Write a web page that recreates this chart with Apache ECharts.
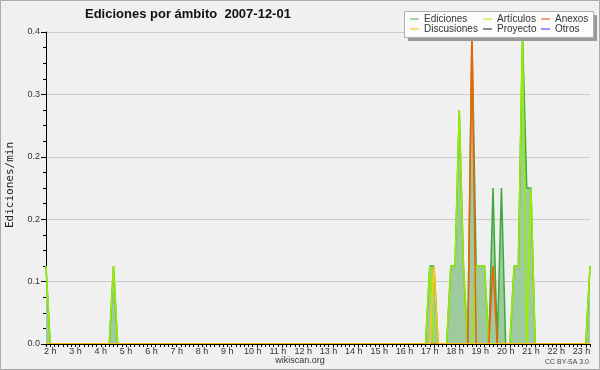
<!DOCTYPE html>
<html>
<head>
<meta charset="utf-8">
<script src="https://cdn.jsdelivr.net/npm/echarts@6/dist/echarts.min.js"></script>
<style>html,body{margin:0;padding:0;background:#f0f0f0;}#c{width:600px;height:370px;}</style>
</head>
<body>
<div id="c"></div>
<script>
// 10-minute bins starting at 01:50
const START_MIN = 110;
const STEP_MIN = 10;
const N_POINTS = 130;
const hourLabels = ["2 h","3 h","4 h","5 h","6 h","7 h","8 h","9 h","10 h","11 h","12 h","13 h","14 h","15 h","16 h","17 h","18 h","19 h","20 h","21 h","22 h","23 h"];
const yTickValues = [0, 0.08, 0.16, 0.24, 0.32, 0.4];

const ediciones = [
0.1,0,0,0,0,0,0,0,0,0,
0,0,0,0,0,0,0.1,0,0,0,
0,0,0,0,0,0,0,0,0,0,
0,0,0,0,0,0,0,0,0,0,
0,0,0,0,0,0,0,0,0,0,
0,0,0,0,0,0,0,0,0,0,
0,0,0,0,0,0,0,0,0,0,
0,0,0,0,0,0,0,0,0,0,
0,0,0,0,0,0,0,0,0,0,
0,0.1,0.1,0,0,0,0.1,0.1,0.3,0.1,
0,0.4,0.1,0.1,0.1,0,0.2,0,0.2,0,
0,0.1,0.1,0.4,0.2,0.2,0,0,0,0,
0,0,0,0,0,0,0,0,0,0.1];
const articulos = [
0.1,0,0,0,0,0,0,0,0,0,
0,0,0,0,0,0,0.1,0,0,0,
0,0,0,0,0,0,0,0,0,0,
0,0,0,0,0,0,0,0,0,0,
0,0,0,0,0,0,0,0,0,0,
0,0,0,0,0,0,0,0,0,0,
0,0,0,0,0,0,0,0,0,0,
0,0,0,0,0,0,0,0,0,0,
0,0,0,0,0,0,0,0,0,0,
0,0.1,0,0,0,0,0.1,0.1,0.3,0.1,
0,0,0.1,0.1,0.1,0,0,0,0,0,
0,0.1,0.1,0.4,0,0.2,0,0,0,0,
0,0,0,0,0,0,0,0,0,0.1];
const anexos = [
0,0,0,0,0,0,0,0,0,0,
0,0,0,0,0,0,0,0,0,0,
0,0,0,0,0,0,0,0,0,0,
0,0,0,0,0,0,0,0,0,0,
0,0,0,0,0,0,0,0,0,0,
0,0,0,0,0,0,0,0,0,0,
0,0,0,0,0,0,0,0,0,0,
0,0,0,0,0,0,0,0,0,0,
0,0,0,0,0,0,0,0,0,0,
0,0,0,0,0,0,0,0,0,0,
0,0.4,0,0,0,0,0.1,0,0,0,
0,0,0,0,0,0,0,0,0,0,
0,0,0,0,0,0,0,0,0,0];
const discusiones = [
0,0,0,0,0,0,0,0,0,0,
0,0,0,0,0,0,0,0,0,0,
0,0,0,0,0,0,0,0,0,0,
0,0,0,0,0,0,0,0,0,0,
0,0,0,0,0,0,0,0,0,0,
0,0,0,0,0,0,0,0,0,0,
0,0,0,0,0,0,0,0,0,0,
0,0,0,0,0,0,0,0,0,0,
0,0,0,0,0,0,0,0,0,0,
0,0,0.1,0,0,0,0,0,0,0,
0,0,0,0,0,0,0,0,0,0,
0,0,0,0,0,0,0,0,0,0,
0,0,0,0,0,0,0,0,0,0];
const proyecto = new Array(N_POINTS).fill(0);
const otros = new Array(N_POINTS).fill(0);

const categories = [];
for (let i = 0; i < N_POINTS; i++) {
  const t = START_MIN + STEP_MIN * i;
  const h = Math.floor(t / 60), m = t % 60;
  categories.push(h + ':' + (m < 10 ? '0' : '') + m);
}
function hourLabelFor(cat) {
  const [h, m] = cat.split(':').map(Number);
  if (m !== 0) return '';
  const lbl = hourLabels.find(s => s === h + ' h');
  return lbl || '';
}

const FONT = 'Liberation Sans';
const chart = echarts.init(document.getElementById('c'), null, {renderer: 'canvas'});

function legendCol(left, items) {
  return {
    orient: 'vertical', left: left, top: 14, padding: 0, itemGap: 0,
    icon: 'rect', itemWidth: 9, itemHeight: 1.5, selectedMode: false,
    textStyle: {fontFamily: FONT, fontSize: 10, color: '#333', lineHeight: 10, padding: [0,0,0,0]},
    data: items
  };
}

chart.setOption({
  animation: false,
  backgroundColor: '#f0f0f0',
  grid: {left: 46, right: 10, top: 32, bottom: 26, containLabel: false},
  graphic: [
    {type: 'rect', shape: {x: 0.5, y: 0.5, width: 599, height: 369}, style: {fill: 'none', stroke: '#aaaaaa', lineWidth: 1}, silent: true, z: 100},
    {type: 'text', x: 85, y: 14, style: {text: 'Ediciones por ámbito  2007-12-01', font: 'bold 13px "Liberation Sans"', fill: '#111', verticalAlign: 'middle'}},
    {type: 'text', x: 10, y: 185, rotation: Math.PI / 2, style: {text: 'Ediciones/min', font: '11px "DejaVu Sans Mono"', fill: '#222', align: 'center', verticalAlign: 'middle'}},
    {type: 'text', x: 300, y: 361, style: {text: 'wikiscan.org', font: '9px "Liberation Sans"', fill: '#333', align: 'center', verticalAlign: 'middle'}},
    {type: 'text', x: 589, y: 362, style: {text: 'CC BY-SA 3.0', font: '7px "Liberation Sans"', fill: '#444', align: 'right', verticalAlign: 'middle'}},
    {type: 'rect', shape: {x: 408, y: 15, width: 189, height: 26}, style: {fill: '#999999'}, z: 50},
    {type: 'rect', shape: {x: 404.5, y: 11.5, width: 189, height: 26}, style: {fill: '#fbfbfb', stroke: '#b0b0b0', lineWidth: 1}, z: 51}
  ],
  legend: [
    legendCol(410, [{name: 'Ediciones', itemStyle: {color: '#88cc88'}}, {name: 'Discusiones', itemStyle: {color: '#ffcc55'}}]),
    legendCol(483, [{name: 'Artículos', itemStyle: {color: '#ccee55'}}, {name: 'Proyecto', itemStyle: {color: '#666666'}}]),
    legendCol(541, [{name: 'Anexos', itemStyle: {color: '#ee8855'}}, {name: 'Otros', itemStyle: {color: '#9966ee'}}])
  ].map(l => Object.assign(l, {z: 60})),
  xAxis: {
    type: 'category', data: categories, boundaryGap: false, z: 10,
    axisLine: {lineStyle: {color: '#000', width: 1}},
    axisTick: {show: true, interval: 0, length: 3, lineStyle: {color: '#000'}},
    axisLabel: {interval: 0, formatter: v => hourLabelFor(v), fontFamily: FONT, fontSize: 9, color: '#333', margin: 3},
    splitLine: {show: false}
  },
  yAxis: {
    type: 'value', min: yTickValues[0], max: yTickValues[yTickValues.length - 1], interval: yTickValues[1] - yTickValues[0],
    axisLine: {show: true, lineStyle: {color: '#000', width: 1}},
    axisTick: {show: true, length: 5, lineStyle: {color: '#000'}},
    minorTick: {show: true, splitNumber: 4, length: 3, lineStyle: {color: '#000'}},
    axisLabel: {formatter: v => v.toFixed(1), fontFamily: FONT, fontSize: 9, color: '#333', margin: 6},
    splitLine: {show: true, lineStyle: {color: '#cccccc', width: 1}}
  },
  series: [
    {name: 'Ediciones', type: 'line', data: ediciones, showSymbol: false, z: 2,
     lineStyle: {color: '#3aaa3a', width: 1.5}, itemStyle: {color: '#88cc88'},
     areaStyle: {color: '#9dcb9d', opacity: 1}},
    {name: 'Artículos', type: 'line', data: articulos, showSymbol: false, z: 3,
     lineStyle: {color: '#99ee00', width: 1.5}, itemStyle: {color: '#ccee55'}},
    {name: 'Anexos', type: 'line', data: anexos, showSymbol: false, z: 4,
     lineStyle: {color: '#ff5a00', width: 1.5}, itemStyle: {color: '#ee8855'}},
    {name: 'Discusiones', type: 'line', data: discusiones, showSymbol: false, z: 4,
     lineStyle: {color: '#ffcc00', width: 1.5}, itemStyle: {color: '#ffcc55'}},
    {name: 'Proyecto', type: 'line', data: proyecto, showSymbol: false, z: 1,
     lineStyle: {color: '#555555', width: 1}, itemStyle: {color: '#666666'}},
    {name: 'Otros', type: 'line', data: otros, showSymbol: false, z: 1,
     lineStyle: {color: '#9955ee', width: 1}, itemStyle: {color: '#9966ee'}}
  ]
});
</script>
</body>
</html>
